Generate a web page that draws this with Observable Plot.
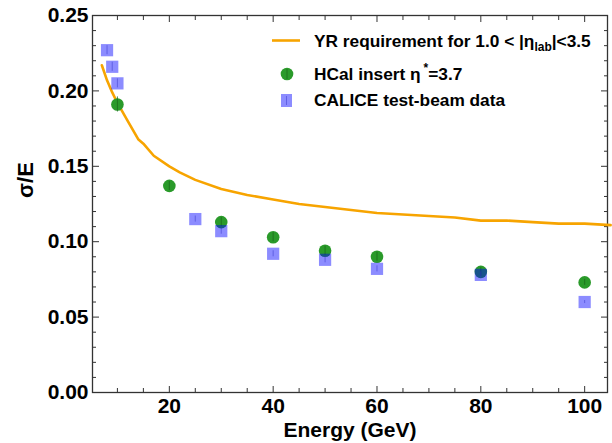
<!DOCTYPE html>
<html>
<head>
<meta charset="utf-8">
<script src="https://cdn.jsdelivr.net/npm/d3@7"></script>
<script src="https://cdn.jsdelivr.net/npm/@observablehq/plot@0.6"></script>
<style>
  body { margin: 0; background: #fff; }
  #chart svg { display: block; }
</style>
</head>
<body>
<div id="chart"></div>
<script>
// YR requirement curve for 1.0 < |eta_lab| < 3.5
const yrEnergy = [7, 8, 9, 10, 12, 14, 15, 17, 20, 22, 25, 30, 35, 40, 45, 50, 55, 60, 65, 70, 75, 80, 85, 90, 95, 100, 105];
const yrRes    = [0.217, 0.207, 0.199, 0.192, 0.180, 0.168, 0.165, 0.157, 0.150, 0.146, 0.141, 0.135, 0.131, 0.128, 0.125, 0.123, 0.121, 0.119, 0.118, 0.117, 0.116, 0.114, 0.114, 0.113, 0.112, 0.112, 0.111];

// HCal insert, eta* = 3.7
const hcalEnergy = [10, 20, 30, 40, 50, 60, 80, 100];
const hcalRes    = [0.191, 0.137, 0.113, 0.103, 0.094, 0.090, 0.080, 0.073];
const hcalErr    = [0.005, 0.003, 0.003, 0.003, 0.003, 0.003, 0.003, 0.002];

// CALICE test-beam data
const caliceEnergy = [8, 9, 10, 25, 30, 40, 50, 60, 80, 100];
const caliceRes    = [0.227, 0.216, 0.205, 0.115, 0.107, 0.092, 0.088, 0.082, 0.078, 0.060];
const caliceErr    = [0.003, 0.003, 0.003, 0.002, 0.002, 0.002, 0.002, 0.002, 0.002, 0.001];

// axis ticks
const yMajor = [0, 0.05, 0.10, 0.15, 0.20, 0.25];
const yMinor = d3.range(0, 0.2501, 0.01).filter(v => Math.abs(v * 20 - Math.round(v * 20)) > 1e-6);
const xMajor = [20, 40, 60, 80, 100];
const xMinor = [10, 15, 25, 30, 35, 45, 50, 55, 65, 70, 75, 85, 90, 95];

const yr = yrEnergy.map((e, i) => ({e, r: yrRes[i]}));
const hcal = hcalEnergy.map((e, i) => ({e, r: hcalRes[i], err: hcalErr[i]}));
const calice = caliceEnergy.map((e, i) => ({e, r: caliceRes[i], err: caliceErr[i]}));

const axisColor = "#333";
const green = "#2a9a2a";
const orange = "#f7a400";
const noText = () => "";

const plot = Plot.plot({
  width: 612,
  height: 443,
  marginLeft: 92,
  marginRight: 5,
  marginTop: 15,
  marginBottom: 51,
  style: {fontFamily: "'Liberation Sans', Arial, Helvetica, sans-serif", fontWeight: "bold", fontSize: "21px", color: "#000", background: "#fff"},
  x: {domain: [5.2, 104.4]},
  y: {domain: [0, 0.25]},
  marks: [
    // inward ticks on all four sides
    Plot.axisY(yMajor, {anchor: "left", tickSize: -7, tickPadding: 11, tickFormat: d3.format(".2f"), label: null, stroke: axisColor, fill: "#000"}),
    Plot.axisY(yMinor, {anchor: "left", tickSize: -4, tickFormat: noText, label: null, stroke: axisColor}),
    Plot.axisY(yMajor, {anchor: "right", tickSize: -7, tickFormat: noText, label: null, stroke: axisColor}),
    Plot.axisY(yMinor, {anchor: "right", tickSize: -4, tickFormat: noText, label: null, stroke: axisColor}),
    Plot.axisX(xMajor, {anchor: "bottom", tickSize: -6, tickPadding: 12, label: null, stroke: axisColor, fill: "#000"}),
    Plot.axisX(xMinor, {anchor: "bottom", tickSize: -4, tickFormat: noText, label: null, stroke: axisColor}),
    Plot.axisX(xMajor, {anchor: "top", tickSize: -6, tickFormat: noText, label: null, stroke: axisColor}),
    Plot.axisX(xMinor, {anchor: "top", tickSize: -4, tickFormat: noText, label: null, stroke: axisColor}),
    Plot.frame({stroke: axisColor, strokeWidth: 1.3}),

    // axis titles
    Plot.text(["Energy (GeV)"], {frameAnchor: "bottom", dy: 44, lineAnchor: "bottom", fontSize: 21, fill: "#000"}),
    Plot.text(["σ/E"], {frameAnchor: "left", dx: -67, dy: -6, rotate: -90, fontSize: 22, fill: "#000"}),

    // requirement curve
    Plot.line(yr, {x: "e", y: "r", stroke: orange, strokeWidth: 2.6, curve: "linear"}),

    // HCal insert points with error bars
    Plot.dot(hcal, {x: "e", y: "r", r: 6.3, fill: green, stroke: "none"}),
    Plot.ruleX(hcal, {x: "e", y1: d => d.r - d.err, y2: d => d.r + d.err, stroke: "#1b6d1b", strokeOpacity: 0.8, strokeWidth: 1}),

    // CALICE points (translucent squares) with error bars
    Plot.dot(calice, {x: "e", y: "r", symbol: "square", r: 6.9, fill: "blue", fillOpacity: 0.45, stroke: "none"}),
    Plot.ruleX(calice, {x: "e", y1: d => d.r - d.err, y2: d => d.r + d.err, stroke: "#3636c8", strokeOpacity: 0.5, strokeWidth: 1})
  ]
});

document.getElementById("chart").appendChild(plot);

// legend in the upper right of the frame
const svg = d3.select(plot);
const lg = svg.append("g")
  .attr("font-family", "'Liberation Sans', Arial, Helvetica, sans-serif")
  .attr("font-weight", "bold")
  .attr("font-size", 17.3)
  .attr("text-anchor", "start")
  .attr("fill", "#000");

lg.append("line").attr("x1", 272).attr("x2", 300).attr("y1", 40.5).attr("y2", 40.5)
  .attr("stroke", orange).attr("stroke-width", 2.6);
lg.append("circle").attr("cx", 287).attr("cy", 74).attr("r", 6.3).attr("fill", green);
lg.append("line").attr("x1", 287).attr("x2", 287).attr("y1", 69).attr("y2", 79).attr("stroke", "#1b6d1b").attr("stroke-opacity", 0.8);
lg.append("rect").attr("x", 281).attr("y", 94).attr("width", 11).attr("height", 13)
  .attr("fill", "blue").attr("fill-opacity", 0.45);
lg.append("line").attr("x1", 286.5).attr("x2", 286.5).attr("y1", 96).attr("y2", 105).attr("stroke", "#3636c8").attr("stroke-opacity", 0.5);

const t1 = lg.append("text").attr("x", 314).attr("y", 46.5);
t1.append("tspan").text("YR requirement for 1.0 < |η");
t1.append("tspan").attr("font-size", 12).attr("dy", 4).text("lab");
t1.append("tspan").attr("dy", -4).text("|<3.5");

const t2 = lg.append("text").attr("x", 314).attr("y", 79.5);
t2.append("tspan").text("HCal insert η");
t2.append("tspan").attr("font-size", 12).attr("dx", 3).attr("dy", -8).text("*");
t2.append("tspan").attr("dy", 8).text("=3.7");

lg.append("text").attr("x", 314).attr("y", 106).text("CALICE test-beam data");
</script>
</body>
</html>
